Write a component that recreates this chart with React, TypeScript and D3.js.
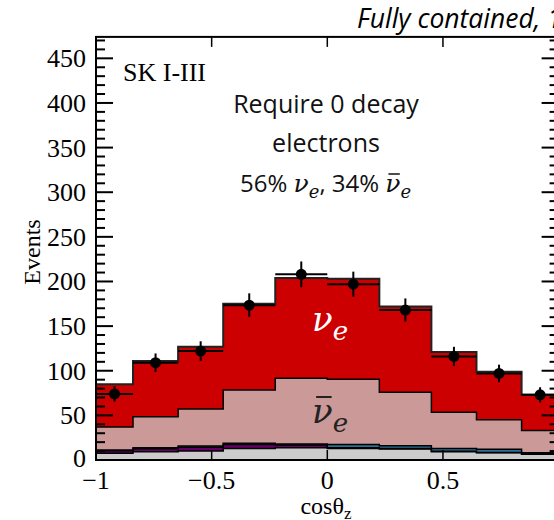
import React, { useEffect, useRef } from 'react';
import * as d3 from 'd3';

// zenith bins (cos theta), non uniform
const binEdges = [-1, -0.84, -0.645, -0.45, -0.225, 0, 0.225, 0.45, 0.645, 0.84, 1];

// MC stack, bottom to top
const ncEvents = [7.5, 9.3, 10, 13, 13.8, 13, 12.3, 9.3, 8.2, 6.4];
const nutauEvents = [2.8, 3.4, 4.3, 4.3, 3.0, 0.8, 0.5, 0.4, 0.3, 0.3];
const numuEvents = [0.9, 1.1, 1.4, 1.4, 1.2, 3.7, 3.2, 3.3, 3.5, 1.5];
const nuebarEvents = [25.8, 34.7, 41.3, 59.8, 73.5, 73, 60, 40.5, 33, 24.8];
const nueEvents = [48, 62.5, 70, 96.5, 112.5, 112.5, 96, 67.5, 54, 40];

// data points
const dataEvents = [74, 109, 122, 173.5, 208, 197, 168, 116, 97, 73];
const dataErrors = [8.6, 10.4, 11, 13.2, 14.4, 14, 13, 10.8, 9.8, 8.5];

const xTicks = [-1, -0.5, 0, 0.5];
const xTickLabels = ['\u22121', '\u22120.5', '0', '0.5'];
const yTicks = [0, 50, 100, 150, 200, 250, 300, 350, 400, 450];

const layerKeys = ['nc', 'nutau', 'numu', 'nuebar', 'nue'];
const layerColors = {
    nc: '#cccccc',
    nutau: '#660066',
    numu: '#2a6f97',
    nuebar: '#cc9999',
    nue: '#cc0000',
};

const greek = '"DejaVu Serif", "Liberation Serif", serif';

function App() {
    const ref = useRef(null);

    const width = 554;
    const height = 520;
    const left = 96, right = 558.6, top = 36.9, bottom = 460;

    useEffect(() => {
        drawChart();
    }, []);

    function drawChart() {
        const svg = d3.select(ref.current);
        svg.selectAll('*').remove();

        const x = d3.scaleLinear().domain([-1, 1]).range([left, right]);
        const y = d3.scaleLinear().domain([0, 474]).range([bottom, top]);

        const rows = ncEvents.map((_, i) => ({
            nc: ncEvents[i],
            nutau: nutauEvents[i],
            numu: numuEvents[i],
            nuebar: nuebarEvents[i],
            nue: nueEvents[i],
        }));
        const stacked = d3.stack().keys(layerKeys)(rows);

        // step points incl. closing edge
        const toSteps = (layer) => {
            const pts = layer.map((d, i) => ({ x: binEdges[i], y0: d[0], y1: d[1] }));
            const last = layer[layer.length - 1];
            pts.push({ x: binEdges[binEdges.length - 1], y0: last[0], y1: last[1] });
            return pts;
        };

        const area = d3.area()
            .curve(d3.curveStepAfter)
            .x((d) => x(d.x))
            .y0((d) => y(d.y0))
            .y1((d) => y(d.y1));

        const topLine = d3.line()
            .curve(d3.curveStepAfter)
            .x((d) => x(d.x))
            .y((d) => y(d.y1));

        svg.append('clipPath').attr('id', 'plot-clip')
            .append('rect')
            .attr('x', left).attr('y', top)
            .attr('width', right - left).attr('height', bottom - top);

        const g = svg.append('g').attr('clip-path', 'url(#plot-clip)');

        stacked.forEach((layer) => {
            g.append('path')
                .attr('d', area(toSteps(layer)))
                .style('fill', layerColors[layer.key]);
        });
        stacked.forEach((layer) => {
            g.append('path')
                .attr('d', topLine(toSteps(layer)))
                .style('fill', 'none')
                .style('stroke', layer.key === 'nue' ? '#222' : '#000')
                .style('stroke-width', layer.key === 'nue' ? 2 : 1.5);
        });

        // data with errors
        const pts = g.selectAll('.pt')
            .data(dataEvents)
            .enter()
            .append('g');
        pts.append('line')
            .attr('x1', (_, i) => x(binEdges[i]))
            .attr('x2', (_, i) => x(binEdges[i + 1]))
            .attr('y1', (d) => y(d)).attr('y2', (d) => y(d))
            .style('stroke', '#000').style('stroke-width', 2);
        pts.append('line')
            .attr('x1', (_, i) => x((binEdges[i] + binEdges[i + 1]) / 2))
            .attr('x2', (_, i) => x((binEdges[i] + binEdges[i + 1]) / 2))
            .attr('y1', (d, i) => y(d - dataErrors[i]))
            .attr('y2', (d, i) => y(d + dataErrors[i]))
            .style('stroke', '#000').style('stroke-width', 2);
        pts.append('circle')
            .attr('cx', (_, i) => x((binEdges[i] + binEdges[i + 1]) / 2))
            .attr('cy', (d) => y(d))
            .attr('r', 5.5)
            .style('fill', '#000');

        // frame
        svg.append('rect')
            .attr('x', left).attr('y', top)
            .attr('width', right - left).attr('height', bottom - top)
            .style('fill', 'none').style('stroke', '#000').style('stroke-width', 2);

        // y ticks, both sides
        const yMinor = d3.range(0, 471, 10);
        yMinor.forEach((v) => {
            const major = v % 50 === 0;
            const len = major ? 17 : 9;
            svg.append('line')
                .attr('x1', left).attr('x2', left + len)
                .attr('y1', y(v)).attr('y2', y(v))
                .style('stroke', '#000').style('stroke-width', 2);
            svg.append('line')
                .attr('x1', right).attr('x2', right - len)
                .attr('y1', y(v)).attr('y2', y(v))
                .style('stroke', '#000').style('stroke-width', 2);
        });
        svg.selectAll('.ylab')
            .data(yTicks)
            .enter()
            .append('text')
            .attr('x', 86)
            .attr('y', (d) => y(d) + (d === 0 ? 7 : 9))
            .attr('text-anchor', 'end')
            .style('font-family', '"Liberation Serif", serif')
            .style('font-size', '26px')
            .text((d) => d);

        // x ticks, bottom and top
        xTicks.forEach((v) => {
            svg.append('line')
                .attr('x1', x(v)).attr('x2', x(v))
                .attr('y1', bottom).attr('y2', bottom - 10)
                .style('stroke', '#000').style('stroke-width', 1.5);
            svg.append('line')
                .attr('x1', x(v)).attr('x2', x(v))
                .attr('y1', top).attr('y2', top + 10)
                .style('stroke', '#000').style('stroke-width', 1.5);
        });
        svg.selectAll('.xlab')
            .data(xTicks)
            .enter()
            .append('text')
            .attr('x', (d) => x(d))
            .attr('y', 489)
            .attr('text-anchor', 'middle')
            .style('font-family', '"Liberation Serif", serif')
            .style('font-size', '26px')
            .text((_, i) => xTickLabels[i]);

        // axis titles
        svg.append('text')
            .attr('transform', 'translate(40, 252) rotate(-90)')
            .attr('text-anchor', 'middle')
            .style('font-family', '"Liberation Serif", serif')
            .style('font-size', '24px')
            .text('Events');

        const xl = svg.append('text')
            .attr('x', 326).attr('y', 514)
            .attr('text-anchor', 'middle')
            .style('font-family', '"Liberation Serif", serif')
            .style('font-size', '24px');
        xl.append('tspan').text('cos\u03b8');
        xl.append('tspan').attr('dy', 5).style('font-size', '17px').text('z');

        // title (cut by the page edge)
        svg.append('text')
            .attr('x', 357).attr('y', 28)
            .style('font-family', '"Open Sans", sans-serif')
            .style('font-style', 'italic')
            .style('font-size', '26.5px')
            .text('Fully contained, 1-ring e-like');

        svg.append('text')
            .attr('x', 123).attr('y', 81)
            .style('font-family', '"Liberation Serif", serif')
            .style('font-size', '26px')
            .text('SK I-III');

        const note = (txt, yy) => svg.append('text')
            .attr('x', 326).attr('y', yy)
            .attr('text-anchor', 'middle')
            .style('font-family', '"Open Sans", sans-serif')
            .style('font-size', '25px')
            .style('fill', '#111')
            .text(txt);
        note('Require 0 decay', 113);
        note('electrons', 152);

        // fractions line
        const fr = svg.append('text')
            .attr('x', 240).attr('y', 192)
            .style('font-family', '"Open Sans", sans-serif')
            .style('font-size', '24px')
            .style('fill', '#111');
        fr.append('tspan').text('56% ');
        fr.append('tspan').style('font-family', greek).style('font-style', 'italic').style('font-size', '25px').text('\u03bd');
        fr.append('tspan').attr('dy', 6).style('font-family', greek).style('font-style', 'italic').style('font-size', '18px').text('e');
        fr.append('tspan').attr('dy', -6).text(', 34% ');
        const nubarSmall = fr.append('tspan').style('font-family', greek).style('font-style', 'italic').style('font-size', '25px').text('\u03bd');
        fr.append('tspan').attr('dy', 6).style('font-family', greek).style('font-style', 'italic').style('font-size', '18px').text('e');
        const smallBar = svg.append('line')
            .attr('x1', 388).attr('x2', 398)
            .attr('y1', 173).attr('y2', 173)
            .style('stroke', '#111').style('stroke-width', 1.5);

        // in-plot labels
        const lab = (yy, fill) => svg.append('text')
            .attr('x', 312).attr('y', yy)
            .style('font-family', greek)
            .style('font-style', 'italic')
            .style('fill', fill);
        const l1 = lab(331, '#fff');
        l1.append('tspan').style('font-size', '34px').text('\u03bd');
        l1.append('tspan').attr('dy', 9).style('font-size', '26px').text('e');

        const l2 = lab(423, '#222');
        const bigNu = l2.append('tspan').style('font-size', '34px').text('\u03bd');
        l2.append('tspan').attr('dy', 9).style('font-size', '26px').text('e');
        const bigBar = svg.append('line')
            .attr('x1', 314).attr('x2', 330)
            .attr('y1', 402).attr('y2', 402)
            .style('stroke', '#222').style('stroke-width', 2);

        // put the bars over the nu glyphs
        const placeBar = (tspan, line, dy) => {
            const parent = tspan.node().parentNode;
            if (!parent || !parent.getNumberOfChars) return;
            const idx = Array.from(parent.childNodes)
                .slice(0, Array.from(parent.childNodes).indexOf(tspan.node()))
                .reduce((s, n) => s + (n.textContent || '').length, 0);
            const ext = parent.getExtentOfChar(idx);
            line.attr('x1', ext.x + ext.width * 0.2).attr('x2', ext.x + ext.width * 0.95)
                .attr('y1', ext.y + dy).attr('y2', ext.y + dy);
        };
        try {
            placeBar(nubarSmall, smallBar, 5);
            placeBar(bigNu, bigBar, 6);
        } catch (e) {
            // keep defaults
        }
    }

    return (
        <svg ref={ref} width={width} height={height}
            style={{ position: 'absolute', left: 0, top: 0, background: '#fff' }} />
    );
}

export default App;
